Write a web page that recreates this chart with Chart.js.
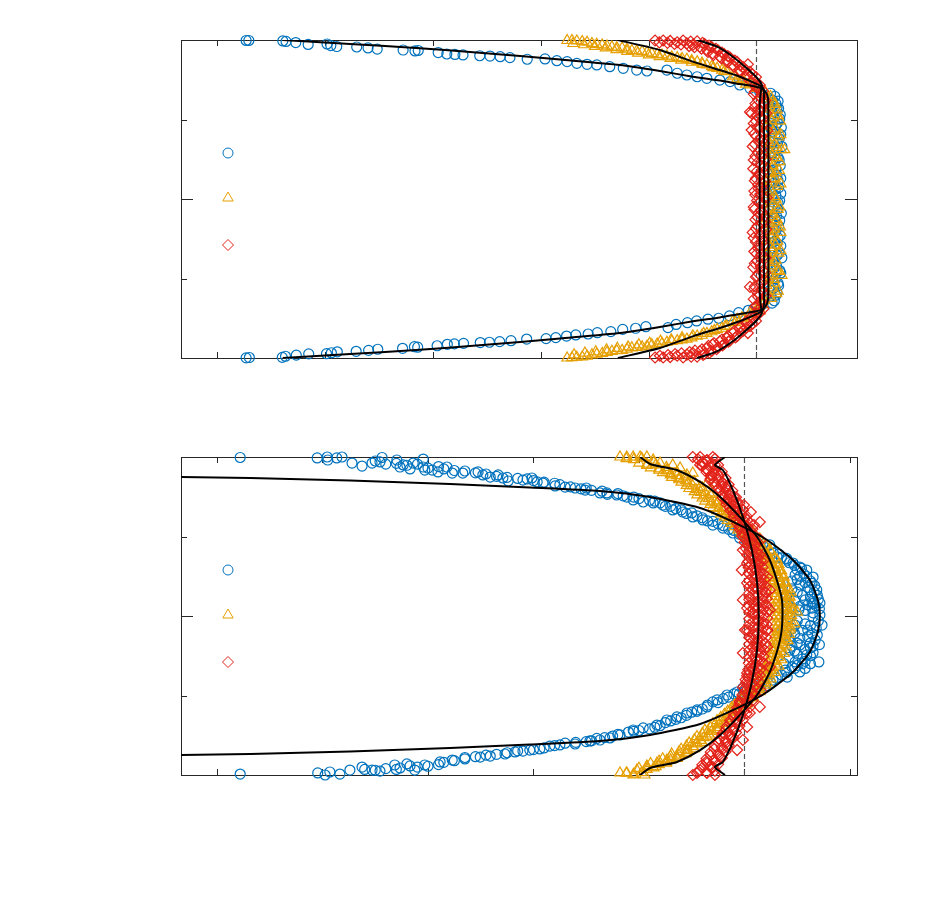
<!DOCTYPE html>
<html>
<head>
<meta charset="utf-8">
<script src="https://cdn.jsdelivr.net/npm/chart.js@4/dist/chart.umd.min.js"></script>
<style>
  html, body { margin: 0; background: #fff; }
  #wrap { position: relative; width: 934px; height: 913px; }
  .panel { position: absolute; left: 0; width: 934px; height: 400px; }
</style>
</head>
<body>
<div id="wrap">
  <div class="panel" style="top:0"><canvas id="chartTop"></canvas></div>
  <div class="panel" style="top:417px"><canvas id="chartBottom"></canvas></div>
</div>
<script>
// ── Data: x = u / U (dashed line at 1), y = position across the channel (-1..1) ──

var xTicksTop = [0, 0.2, 0.4, 0.6, 0.8, 1.0];
var xTicksBottom = [0, 0.2, 0.4, 0.6, 0.8, 1.0, 1.2];
var yTicks = [-0.5, 0, 0.5];
var refLine = [[1.0, -1], [1.0, 1]];

// top panel — simulation points
var topBlue = [
  [0.054,0.997],[0.059,0.997],[0.122,0.994],[0.128,0.991],[0.146,0.984],[0.169,0.972],[0.204,0.975],[0.211,0.965],
  [0.222,0.959],[0.259,0.956],[0.280,0.950],[0.297,0.943],[0.345,0.937],[0.367,0.931],[0.373,0.934],[0.410,0.921],
  [0.426,0.912],[0.441,0.909],[0.456,0.906],[0.487,0.901],[0.506,0.899],[0.525,0.895],[0.543,0.889],[0.575,0.879],
  [0.608,0.881],[0.630,0.870],[0.649,0.864],[0.667,0.853],[0.686,0.847],[0.704,0.843],[0.728,0.832],[0.753,0.822],
  [0.778,0.811],[0.797,0.805],[0.834,0.811],[0.853,0.791],[0.871,0.780],[0.890,0.769],[0.908,0.759],[0.932,0.748],
  [0.951,0.738],[0.969,0.717],[0.988,0.696],[1.006,0.675],[1.021,0.635],
  [1.030,0.62],[1.036,0.60],[1.041,0.57],[1.028,0.55],[1.044,0.53],[1.033,0.51],[1.039,0.48],[1.046,0.45],
  [1.027,0.44],[1.035,0.41],[1.042,0.38],[1.031,0.36],[1.047,0.33],[1.037,0.31],[1.025,0.29],[1.040,0.26],
  [1.033,0.23],[1.044,0.21],[1.029,0.18],[1.038,0.15],[1.045,0.13],[1.032,0.10],[1.041,0.07],[1.026,0.05],
  [1.036,0.02],[1.043,-0.01],[1.030,-0.04],[1.039,-0.06],[1.046,-0.09],[1.034,-0.12],[1.027,-0.14],[1.041,-0.17],
  [1.036,-0.20],[1.044,-0.23],[1.029,-0.25],[1.038,-0.28],[1.033,-0.31],[1.042,-0.34],[1.047,-0.37],[1.031,-0.39],
  [1.037,-0.42],[1.043,-0.45],[1.028,-0.47],[1.035,-0.50],[1.040,-0.53],[1.032,-0.56],[1.038,-0.59],[1.027,-0.61],
  [1.033,-0.64],
  [1.012,-0.66],[0.995,-0.69],[0.985,-0.70],[0.967,-0.715],[0.950,-0.735],[0.930,-0.750],[0.910,-0.756],[0.889,-0.767],
  [0.872,-0.778],[0.851,-0.789],[0.836,-0.809],[0.795,-0.803],[0.776,-0.813],[0.752,-0.820],[0.730,-0.834],[0.705,-0.841],
  [0.688,-0.849],[0.665,-0.855],[0.648,-0.862],[0.628,-0.872],[0.610,-0.878],[0.574,-0.881],[0.545,-0.891],[0.524,-0.897],
  [0.505,-0.901],[0.488,-0.903],[0.457,-0.908],[0.440,-0.911],[0.427,-0.914],[0.408,-0.923],[0.372,-0.932],[0.366,-0.929],
  [0.344,-0.939],[0.298,-0.945],[0.281,-0.952],[0.258,-0.958],[0.223,-0.961],[0.212,-0.967],[0.203,-0.973],[0.170,-0.974],
  [0.147,-0.982],[0.127,-0.989],[0.121,-0.996],[0.060,-0.997],[0.054,-0.999]
];
var topBlueCore = [
  [1.026,0.665],[1.034,0.645],[1.040,0.615],[1.024,0.59],[1.038,0.575],[1.030,0.535],[1.043,0.505],[1.025,0.495],
  [1.036,0.465],[1.029,0.425],[1.045,0.405],[1.039,0.355],[1.026,0.335],[1.034,0.275],[1.042,0.245],[1.028,0.215],
  [1.036,0.19],[1.031,0.135],[1.040,0.115],[1.024,0.085],[1.035,0.06],[1.045,0.035],[1.029,0.005],[1.040,-0.025],
  [1.024,-0.075],[1.037,-0.105],[1.043,-0.135],[1.031,-0.185],[1.025,-0.215],[1.040,-0.245],[1.034,-0.265],[1.045,-0.295],
  [1.027,-0.335],[1.038,-0.355],[1.024,-0.405],[1.033,-0.435],[1.045,-0.465],[1.030,-0.515],[1.041,-0.545],[1.025,-0.575],
  [1.036,-0.605],[1.029,-0.655]
];
var topOrange = [
  [0.649,0.997],[0.658,0.997],[0.667,0.994],[0.677,0.991],[0.686,0.986],[0.695,0.978],[0.704,0.973],[0.714,0.969],
  [0.723,0.962],[0.732,0.956],[0.741,0.952],[0.751,0.950],[0.760,0.943],[0.769,0.934],[0.778,0.931],[0.788,0.928],
  [0.797,0.923],[0.806,0.915],[0.816,0.910],[0.825,0.906],[0.834,0.899],[0.843,0.893],[0.853,0.889],[0.862,0.884],
  [0.871,0.879],[0.880,0.871],[0.890,0.864],[0.899,0.855],[0.908,0.843],[0.917,0.833],[0.927,0.822],[0.936,0.811],
  [0.945,0.801],[0.956,0.769],[0.964,0.755],[0.973,0.748],[0.980,0.723],[0.988,0.717],[1.001,0.696],
  [1.010,0.66],[1.020,0.63],[1.030,0.61],[1.024,0.58],[1.038,0.56],[1.018,0.54],[1.032,0.51],[1.044,0.49],
  [1.022,0.47],[1.035,0.44],[1.027,0.41],[1.041,0.39],[1.019,0.37],[1.033,0.34],[1.046,0.31],[1.052,0.31],
  [1.025,0.29],[1.037,0.26],[1.021,0.24],[1.030,0.21],[1.042,0.18],[1.026,0.16],[1.034,0.13],[1.019,0.11],
  [1.039,0.08],[1.028,0.05],[1.023,0.03],[1.036,0.00],[1.031,-0.03],[1.043,-0.05],[1.020,-0.08],[1.029,-0.11],
  [1.038,-0.13],[1.024,-0.16],[1.033,-0.19],[1.045,-0.21],[1.027,-0.24],[1.019,-0.26],[1.035,-0.29],[1.030,-0.32],
  [1.041,-0.34],[1.022,-0.37],[1.032,-0.40],[1.026,-0.42],[1.038,-0.45],[1.047,-0.48],[1.021,-0.50],[1.034,-0.53],
  [1.028,-0.56],[1.040,-0.58],[1.023,-0.61],[1.015,-0.64],
  [1.000,-0.695],[0.988,-0.716],[0.973,-0.746],[0.964,-0.757],[0.956,-0.770],[0.945,-0.799],[0.936,-0.813],[0.927,-0.820],
  [0.917,-0.835],[0.908,-0.845],[0.899,-0.857],[0.890,-0.862],[0.880,-0.873],[0.871,-0.881],[0.862,-0.886],[0.853,-0.891],
  [0.843,-0.895],[0.834,-0.901],[0.825,-0.908],[0.816,-0.912],[0.806,-0.917],[0.797,-0.925],[0.788,-0.930],[0.778,-0.933],
  [0.769,-0.936],[0.760,-0.945],[0.751,-0.952],[0.741,-0.954],[0.732,-0.958],[0.723,-0.964],[0.714,-0.971],[0.704,-0.975],
  [0.695,-0.980],[0.686,-0.988],[0.677,-0.993],[0.667,-0.995],[0.658,-0.998],[0.649,-1.0]
];
var topOrangeBand = [
  [0.660,0.978],[0.680,0.970],[0.700,0.960],[0.720,0.950],[0.740,0.940],[0.760,0.929],[0.780,0.918],[0.800,0.906],
  [0.820,0.895],[0.840,0.884],[0.860,0.873],[0.880,0.860],[0.900,0.846],[0.920,0.826],[0.940,0.802],[0.960,0.779],
  [0.975,0.752],[0.990,0.728],[1.005,0.706],
  [1.016,0.675],[1.026,0.645],[1.035,0.595],[1.021,0.565],[1.040,0.525],[1.027,0.495],[1.016,0.455],[1.031,0.425],
  [1.045,0.405],[1.024,0.355],[1.038,0.325],[1.018,0.305],[1.029,0.275],[1.043,0.235],[1.022,0.195],[1.036,0.165],
  [1.028,0.125],[1.045,0.095],[1.017,0.065],[1.033,0.015],[1.025,-0.015],[1.040,-0.065],[1.030,-0.095],[1.018,-0.125],
  [1.035,-0.145],[1.044,-0.175],[1.023,-0.205],[1.031,-0.225],[1.039,-0.265],[1.026,-0.305],[1.045,-0.325],[1.020,-0.345],
  [1.036,-0.385],[1.029,-0.435],[1.042,-0.455],[1.024,-0.485],[1.033,-0.505],[1.019,-0.545],[1.037,-0.595],[1.027,-0.625],
  [1.012,-0.665],[1.005,-0.680],
  [0.662,-0.980],[0.682,-0.969],[0.702,-0.961],[0.722,-0.949],[0.742,-0.939],[0.762,-0.930],[0.782,-0.917],[0.802,-0.907],
  [0.822,-0.894],[0.842,-0.885],[0.862,-0.872],[0.882,-0.861],[0.902,-0.845],[0.922,-0.827],[0.942,-0.801],[0.961,-0.778],
  [0.976,-0.753],[0.991,-0.727],[1.006,-0.705]
];
var topRed = [
  [0.812,0.997],[0.827,0.997],[0.840,0.994],[0.853,0.986],[0.864,0.997],[0.871,0.979],[0.882,0.969],[0.890,0.991],
  [0.895,0.958],[0.904,0.975],[0.908,0.937],[0.917,0.956],[0.919,0.916],[0.929,0.934],[0.932,0.895],[0.940,0.912],
  [0.945,0.874],[0.951,0.890],[0.956,0.843],[0.964,0.862],[0.969,0.811],[0.975,0.830],[0.982,0.780],[0.984,0.847],
  [0.988,0.799],[0.994,0.748],[0.999,0.767],[1.006,0.717],[0.988,0.547],[0.991,0.434],
  [1.000,0.70],[1.012,0.68],[0.995,0.66],[1.008,0.64],[1.016,0.62],[0.998,0.60],[1.010,0.58],[1.003,0.56],
  [1.018,0.54],[0.991,0.54],[1.006,0.51],[0.999,0.49],[1.014,0.47],[1.002,0.45],[1.020,0.43],[0.996,0.41],
  [1.009,0.39],[1.004,0.37],[1.015,0.35],[0.993,0.33],[1.007,0.31],[1.011,0.29],[0.998,0.27],[1.017,0.25],
  [1.002,0.23],[1.008,0.21],[0.994,0.19],[1.013,0.17],[1.005,0.15],[0.999,0.13],[1.016,0.11],[1.003,0.09],
  [1.010,0.07],[0.996,0.05],[1.007,0.03],[1.019,0.01],[1.001,-0.01],[1.012,-0.03],[0.995,-0.05],[1.008,-0.07],
  [1.004,-0.09],[1.015,-0.11],[0.998,-0.13],[1.010,-0.15],[1.002,-0.17],[1.018,-0.19],[0.993,-0.21],[1.006,-0.23],
  [1.011,-0.25],[0.999,-0.27],[1.014,-0.29],[1.003,-0.31],[0.996,-0.33],[1.009,-0.35],[1.017,-0.37],[1.001,-0.39],
  [1.007,-0.41],[0.994,-0.43],[1.012,-0.45],[1.004,-0.47],[0.999,-0.49],[1.015,-0.51],[1.006,-0.53],[0.997,-0.55],
  [0.988,-0.553],[1.010,-0.57],[1.002,-0.59],[1.017,-0.61],[0.995,-0.63],[1.008,-0.65],[1.001,-0.67],[1.013,-0.69],
  [1.006,-0.717],[0.999,-0.767],[0.994,-0.748],[0.988,-0.799],[0.982,-0.780],[0.975,-0.830],[0.969,-0.811],[0.984,-0.843],
  [0.964,-0.862],[0.956,-0.843],[0.951,-0.890],[0.945,-0.874],[0.940,-0.912],[0.932,-0.895],[0.929,-0.934],[0.919,-0.916],
  [0.917,-0.956],[0.908,-0.937],[0.904,-0.975],[0.895,-0.958],[0.890,-0.991],[0.882,-0.969],[0.871,-0.979],[0.864,-0.997],
  [0.853,-0.986],[0.840,-0.994],[0.827,-0.997],[0.812,-0.997]
];
var topRedBand = [
  [0.820,0.985],[0.835,0.982],[0.848,0.975],[0.860,0.972],[0.875,0.962],[0.885,0.955],[0.898,0.945],[0.910,0.925],
  [0.920,0.905],[0.935,0.885],[0.946,0.860],[0.958,0.832],[0.970,0.800],[0.980,0.770],[0.990,0.740],[0.998,0.720],
  [0.878,0.990],[0.900,0.982],[0.912,0.965],[0.925,0.945],[0.936,0.920],[0.947,0.898],[0.960,0.870],[0.970,0.840],
  [0.980,0.810],[0.992,0.785],
  [1.004,0.695],[0.997,0.675],[1.010,0.655],[1.003,0.625],[1.014,0.605],[0.996,0.575],[1.007,0.555],[1.000,0.525],
  [1.012,0.505],[0.995,0.475],[1.005,0.455],[1.016,0.415],[1.000,0.395],[1.010,0.365],[0.997,0.345],[1.013,0.325],
  [1.003,0.295],[1.009,0.265],[0.995,0.245],[1.015,0.205],[1.001,0.175],[1.008,0.155],[0.997,0.115],[1.012,0.095],
  [1.004,0.065],[0.998,0.025],[1.014,0.005],[1.005,-0.025],[0.996,-0.065],[1.011,-0.085],[1.002,-0.115],[1.016,-0.145],
  [0.999,-0.185],[1.009,-0.205],[0.995,-0.245],[1.013,-0.265],[1.004,-0.295],[1.000,-0.345],[1.012,-0.365],[0.997,-0.405],
  [1.008,-0.425],[1.016,-0.465],[1.001,-0.485],[1.010,-0.525],[0.996,-0.565],[1.013,-0.585],[1.003,-0.615],[1.009,-0.645],
  [0.998,-0.675],[1.004,-0.695],
  [0.821,-0.986],[0.836,-0.981],[0.849,-0.976],[0.861,-0.971],[0.876,-0.963],[0.886,-0.954],[0.899,-0.946],[0.911,-0.924],
  [0.921,-0.906],[0.936,-0.884],[0.947,-0.861],[0.959,-0.831],[0.971,-0.801],[0.981,-0.769],[0.991,-0.741],[0.999,-0.719],
  [0.879,-0.991],[0.901,-0.981],[0.913,-0.966],[0.926,-0.944],[0.937,-0.921],[0.948,-0.897],[0.961,-0.871],[0.971,-0.839],
  [0.981,-0.811],[0.993,-0.784]
];

// top panel — model curves
var topBlueFit = [
  [0.122,1.0],[0.247,0.975],[0.376,0.948],[0.469,0.925],[0.562,0.899],[0.636,0.877],[0.747,0.843],[0.821,0.805],
  [0.882,0.769],[0.932,0.745],[0.969,0.723],[0.997,0.708],[1.012,0.692],[1.020,0.654],[1.022,0.591],[1.022,0],
  [1.022,-0.591],[1.020,-0.654],[1.012,-0.692],[0.997,-0.708],[0.969,-0.723],[0.932,-0.745],[0.882,-0.769],[0.821,-0.805],
  [0.747,-0.843],[0.636,-0.877],[0.562,-0.899],[0.469,-0.925],[0.376,-0.948],[0.247,-0.975],[0.122,-1.0]
];
var topOrangeFit = [
  [0.743,1.0],[0.821,0.937],[0.882,0.864],[0.932,0.811],[0.969,0.769],[1.001,0.723],[1.012,0.698],[1.014,0.654],
  [1.014,0.591],[1.014,0],[1.014,-0.591],[1.014,-0.654],[1.012,-0.698],[1.001,-0.723],[0.969,-0.769],[0.932,-0.811],
  [0.882,-0.864],[0.821,-0.937],[0.743,-1.0]
];
var topRedFit = [
  [0.890,1.0],[0.927,0.958],[0.956,0.895],[0.982,0.822],[1.001,0.761],[1.010,0.717],[1.008,0.673],[1.006,0.591],
  [1.006,0],[1.006,-0.591],[1.008,-0.673],[1.010,-0.717],[1.001,-0.761],[0.982,-0.822],[0.956,-0.895],[0.927,-0.958],
  [0.890,-1.0]
];

// bottom panel — simulation points
var bottomBlue = [
  [0.044,0.997],[0.190,0.994],[0.209,1.0],[0.210,0.981],[0.227,0.994],[0.237,1.0],[0.256,0.962],[0.275,0.943],
  [0.294,0.962],[0.309,0.969],[0.313,0.997],[0.341,0.981],[0.347,0.937],[0.353,0.950],[0.366,0.925],[0.372,0.962],
  [0.391,0.987],[0.391,0.937],[0.394,0.918],[0.408,0.918],[0.419,0.906],[0.436,0.937],[0.446,0.899],[0.466,0.899],
  [0.495,0.906],[0.504,0.887],[0.518,0.874],[0.533,0.887],[0.542,0.868],[0.552,0.849],[0.588,0.862],[0.597,0.868],
  [0.607,0.843],[0.618,0.836],[0.641,0.818],[0.660,0.811],[0.679,0.805],[0.698,0.792],[0.726,0.774],[0.739,0.774],
  [0.758,0.761],[0.777,0.748],[0.789,0.730],[0.808,0.717],[0.827,0.711],[0.845,0.698],[0.864,0.667],[0.883,0.654],
  [0.902,0.623],[0.921,0.604],[0.940,0.572],[0.959,0.553],[0.978,0.522],[0.991,0.491],[1.005,0.465],[1.029,0.415],
  [1.048,0.447],[1.062,0.371],[1.081,0.352],[1.092,0.333],[1.105,0.308],[1.118,0.289],[1.130,0.245],[1.137,0.164],
  [1.143,0.082],[1.067,0.208],[1.081,0.082],[1.086,-0.006],[1.096,0.258],[1.105,0.195],[1.124,0.164],[1.115,0.101],
  [1.128,0.050],[1.103,0.038],[1.143,0.006],[1.147,-0.057],[1.096,-0.057],[1.120,-0.088],[1.134,-0.151],[1.105,-0.182],
  [1.086,-0.214],[1.118,-0.245],[1.141,-0.289],[1.096,-0.289],[1.077,-0.340],[1.105,-0.352],[1.086,-0.151],[1.073,-0.088],
  [1.081,-0.384],[1.054,-0.403],[1.029,-0.434],[0.997,-0.453],[0.986,-0.478],[0.967,-0.497],[0.948,-0.528],[0.929,-0.572],
  [0.910,-0.591],[0.891,-0.610],[0.872,-0.635],[0.853,-0.654],[0.834,-0.686],[0.808,-0.704],[0.789,-0.717],[0.764,-0.748],
  [0.745,-0.767],[0.726,-0.780],[0.707,-0.786],[0.679,-0.805],[0.650,-0.811],[0.631,-0.818],[0.612,-0.836],[0.593,-0.843],
  [0.565,-0.855],[0.546,-0.868],[0.518,-0.881],[0.499,-0.887],[0.470,-0.899],[0.446,-0.906],[0.423,-0.918],[0.394,-0.937],
  [0.375,-0.969],[0.366,-0.943],[0.347,-0.956],[0.337,-0.937],[0.309,-0.975],[0.294,-0.969],[0.275,-0.950],[0.252,-0.969],
  [0.233,-0.994],[0.214,-0.981],[0.205,-1.0],[0.191,-0.987],[0.044,-0.994]
];
var bottomBlueBand = [
  [0.32,0.955],[0.36,0.948],[0.40,0.930],[0.43,0.925],[0.47,0.912],[0.51,0.893],[0.55,0.872],[0.58,0.855],
  [0.62,0.842],[0.65,0.826],[0.69,0.800],[0.71,0.790],[0.74,0.765],[0.77,0.756],[0.80,0.738],[0.83,0.722],
  [0.85,0.690],[0.87,0.675],[0.89,0.645],[0.91,0.630],[0.93,0.598],[0.95,0.580],[0.97,0.545],[0.99,0.515],
  [1.01,0.485],[1.02,0.455],[1.04,0.430],[1.055,0.395],[1.07,0.365],[1.085,0.335],[1.10,0.290],[1.112,0.265],
  [1.125,0.220],[1.133,0.190],[1.138,0.130],[1.140,0.105],[1.135,0.065],[1.13,0.02],[1.14,-0.03],[1.128,-0.11],
  [1.138,-0.12],[1.125,-0.20],[1.11,-0.27],[1.095,-0.33],[1.07,-0.37],[1.05,-0.42],[1.03,-0.45],[1.01,-0.47],
  [0.99,-0.49],[0.97,-0.51],[0.95,-0.545],[0.93,-0.56],[0.91,-0.60],[0.89,-0.625],[0.87,-0.65],[0.85,-0.67],
  [0.83,-0.70],[0.80,-0.72],[0.78,-0.73],[0.75,-0.755],[0.72,-0.77],[0.70,-0.79],[0.66,-0.80],[0.62,-0.83],
  [0.58,-0.85],[0.55,-0.86],[0.51,-0.875],[0.47,-0.89],[0.43,-0.92],[0.40,-0.945],[0.36,-0.93],[0.32,-0.96],
  [0.28,-0.965],
  [1.10,0.23],[1.115,0.21],[1.09,0.17],[1.11,0.13],[1.125,0.12],[1.095,0.10],[1.12,0.07],[1.105,0.06],
  [1.13,-0.005],[1.1,-0.03],[1.125,-0.06],[1.11,-0.09],[1.095,-0.11],[1.12,-0.13],[1.105,-0.14],[1.13,-0.19],
  [1.09,-0.19],[1.115,-0.21],[1.1,-0.24],[1.125,-0.25],[1.085,-0.26],[1.11,-0.30],[1.09,-0.32],[1.075,-0.30]
];
var bottomBlueBand2 = [
  [0.30,0.975],[0.34,0.960],[0.38,0.955],[0.42,0.940],[0.45,0.915],[0.49,0.900],[0.53,0.878],[0.57,0.865],
  [0.60,0.852],[0.64,0.835],[0.67,0.812],[0.70,0.805],[0.73,0.785],[0.76,0.770],[0.79,0.748],[0.82,0.728],
  [0.84,0.712],[0.86,0.690],[0.88,0.668],[0.90,0.648],[0.92,0.618],[0.94,0.595],[0.96,0.568],[0.98,0.538],
  [1.00,0.505],[1.015,0.478],[1.035,0.452],[1.05,0.420],[1.065,0.390],[1.08,0.362],[1.095,0.318],[1.108,0.300],
  [1.118,0.250],[1.128,0.205],[1.132,0.150],[1.128,0.090],[1.142,0.045],[1.136,-0.075],[1.142,-0.18],[1.13,-0.23],
  [1.115,-0.285],[1.1,-0.31],[1.08,-0.355],[1.06,-0.39],[1.04,-0.44],[1.02,-0.455],[1.0,-0.475],[0.98,-0.49],
  [0.96,-0.52],[0.94,-0.54],[0.92,-0.585],[0.90,-0.605],[0.88,-0.64],[0.86,-0.66],[0.84,-0.69],[0.82,-0.71],
  [0.79,-0.725],[0.76,-0.745],[0.735,-0.765],[0.71,-0.785],[0.68,-0.795],[0.64,-0.815],[0.60,-0.84],[0.57,-0.848],
  [0.53,-0.87],[0.49,-0.885],[0.45,-0.91],[0.42,-0.935],[0.38,-0.95],[0.34,-0.965],[0.30,-0.97],
  [1.09,0.22],[1.105,0.25],[1.1,0.15],[1.12,0.18],[1.09,0.05],[1.115,0.035],[1.13,0.08],[1.09,-0.08],
  [1.1,-0.17],[1.125,-0.17],[1.115,-0.05],[1.08,-0.12],[1.08,0.12],[1.095,-0.22],[1.125,-0.3],[1.115,-0.33]
];
var bottomOrange = [
  [0.764,1.0],[0.777,1.0],[0.789,1.0],[0.802,1.0],[0.815,1.0],[0.827,0.981],[0.840,0.962],[0.853,0.918],
  [0.864,0.950],[0.878,0.931],[0.891,0.887],[0.902,0.899],[0.916,0.811],[0.929,0.836],[0.940,0.774],[0.948,0.711],
  [0.959,0.679],[0.973,0.635],[0.986,0.604],[0.997,0.560],[1.010,0.522],[1.029,0.459],[1.048,0.415],[1.062,0.352],
  [1.067,0.289],[1.077,0.208],[1.086,0.119],[1.092,0.038],[1.043,0.208],[1.048,0.101],[1.054,-0.006],
  [1.067,0.164],[1.081,-0.025],[1.063,-0.101],[1.100,0.025],[1.086,-0.088],[1.073,-0.182],[1.052,-0.214],[1.058,-0.277],
  [1.039,-0.327],[1.090,0.07],[1.075,0.12],[1.058,0.05],[1.095,-0.05],[1.078,-0.14],[1.065,-0.15],[1.088,0.15],
  [1.070,0.26],[1.055,0.30],[1.045,0.38],
  [1.067,-0.088],[1.062,-0.233],[1.048,-0.340],[1.043,-0.421],[1.029,-0.465],[1.016,-0.509],[1.005,-0.547],[0.978,-0.591],
  [0.967,-0.654],[0.948,-0.717],[0.929,-0.761],[0.910,-0.799],[0.891,-0.843],[0.872,-0.887],[0.853,-0.906],[0.834,-0.925],
  [0.815,-0.950],[0.796,-0.969],[0.777,-0.987],[0.764,-0.987],[0.789,-1.0],[0.811,-1.0]
];
var bottomOrangeBand = [
  [0.776,0.990],[0.790,0.984],[0.805,0.993],[0.800,0.962],[0.815,0.955],[0.828,0.965],[0.822,0.932],[0.838,0.926],
  [0.852,0.935],[0.845,0.902],[0.860,0.895],[0.872,0.905],[0.862,0.872],[0.876,0.866],[0.889,0.875],[0.880,0.842],
  [0.893,0.835],[0.905,0.845],[0.895,0.802],[0.908,0.795],[0.920,0.806],[0.910,0.762],[0.923,0.756],[0.935,0.765],
  [0.925,0.722],[0.938,0.716],[0.950,0.725],[0.940,0.682],[0.952,0.676],[0.964,0.685],[0.955,0.642],[0.966,0.635],
  [0.978,0.645],[0.968,0.602],[0.980,0.596],[0.991,0.605],[0.981,0.562],[0.993,0.555],[1.004,0.565],[0.994,0.522],
  [1.006,0.516],[1.017,0.525],[1.006,0.482],[1.018,0.475],[1.029,0.485],[1.017,0.442],[1.029,0.436],[1.040,0.445],
  [1.027,0.402],[1.039,0.396],[1.050,0.405],[1.035,0.362],[1.047,0.355],[1.058,0.365],[1.042,0.322],[1.054,0.316],
  [1.065,0.325],[1.047,0.282],[1.059,0.275],[1.070,0.285],[1.051,0.242],[1.064,0.236],[1.075,0.245],[1.054,0.202],
  [1.067,0.195],[1.079,0.205],[1.056,0.162],[1.070,0.156],[1.082,0.165],[1.058,0.122],[1.072,0.115],[1.085,0.125],
  [1.059,0.082],[1.073,0.076],[1.087,0.085],[1.060,0.042],[1.074,0.035],[1.088,0.045],[1.060,0.002],[1.075,-0.005],
  [1.089,0.004],[1.060,-0.038],[1.074,-0.045],[1.088,-0.035],[1.059,-0.078],[1.073,-0.085],[1.087,-0.075],[1.058,-0.118],
  [1.072,-0.125],[1.085,-0.115],[1.056,-0.158],[1.070,-0.165],[1.082,-0.155],[1.054,-0.198],[1.067,-0.205],[1.079,-0.195],
  [1.051,-0.238],[1.064,-0.245],[1.075,-0.235],[1.047,-0.278],[1.059,-0.285],[1.070,-0.275],[1.042,-0.318],[1.054,-0.325],
  [1.065,-0.315],[1.035,-0.358],[1.047,-0.365],[1.058,-0.355],[1.027,-0.398],[1.039,-0.405],[1.050,-0.395],[1.017,-0.438],
  [1.029,-0.445],[1.040,-0.435],[1.006,-0.478],[1.018,-0.485],[1.029,-0.475],[0.994,-0.518],[1.006,-0.525],[1.017,-0.515],
  [0.981,-0.558],[0.993,-0.565],[1.004,-0.555],[0.968,-0.598],[0.980,-0.605],[0.991,-0.595],[0.955,-0.638],[0.966,-0.645],
  [0.978,-0.635],[0.940,-0.678],[0.952,-0.685],[0.964,-0.675],[0.925,-0.718],[0.938,-0.725],[0.950,-0.715],[0.910,-0.758],
  [0.923,-0.765],[0.935,-0.755],[0.895,-0.798],[0.908,-0.805],[0.920,-0.795],[0.880,-0.838],[0.893,-0.845],[0.905,-0.835],
  [0.862,-0.868],[0.876,-0.875],[0.889,-0.865],[0.845,-0.898],[0.860,-0.905],[0.872,-0.895],[0.822,-0.928],[0.838,-0.935],
  [0.852,-0.925],[0.800,-0.958],[0.815,-0.965],[0.828,-0.955],[0.776,-0.988],[0.790,-0.995],[0.805,-0.985]
];
var bottomOrangeBand2 = [
  [0.815,0.947],[0.832,0.951],[0.838,0.917],[0.852,0.913],[0.860,0.887],[0.872,0.883],[0.876,0.857],[0.889,0.853],
  [0.890,0.822],[0.902,0.818],[0.905,0.782],[0.917,0.778],[0.920,0.742],[0.932,0.738],[0.935,0.702],[0.947,0.698],
  [0.948,0.662],[0.960,0.658],[0.962,0.622],[0.973,0.618],[0.975,0.582],[0.986,0.578],[0.988,0.542],[0.999,0.538],
  [1.000,0.502],[1.012,0.498],[1.012,0.462],[1.024,0.458],[1.022,0.422],[1.034,0.418],[1.032,0.382],[1.043,0.378],
  [1.040,0.342],[1.051,0.338],[1.046,0.302],[1.058,0.298],[1.051,0.262],[1.064,0.258],[1.055,0.222],[1.068,0.218],
  [1.058,0.182],[1.072,0.178],[1.061,0.142],[1.076,0.138],[1.063,0.102],[1.078,0.098],[1.064,0.062],[1.080,0.058],
  [1.065,0.022],[1.081,0.018],
  [1.065,-0.018],[1.081,-0.022],[1.064,-0.058],[1.080,-0.062],[1.063,-0.098],[1.078,-0.102],[1.061,-0.138],[1.076,-0.142],
  [1.058,-0.178],[1.072,-0.182],[1.055,-0.218],[1.068,-0.222],[1.051,-0.258],[1.064,-0.262],[1.046,-0.298],[1.058,-0.302],
  [1.040,-0.338],[1.051,-0.342],[1.032,-0.378],[1.043,-0.382],[1.022,-0.418],[1.034,-0.422],[1.012,-0.458],[1.024,-0.462],
  [1.000,-0.498],[1.012,-0.502],[0.988,-0.538],[0.999,-0.542],[0.975,-0.578],[0.986,-0.582],[0.962,-0.618],[0.973,-0.622],
  [0.948,-0.658],[0.960,-0.662],[0.935,-0.698],[0.947,-0.702],[0.920,-0.738],[0.932,-0.742],[0.905,-0.778],[0.917,-0.782],
  [0.890,-0.818],[0.902,-0.822],[0.876,-0.853],[0.889,-0.857],[0.860,-0.883],[0.872,-0.887],[0.838,-0.913],[0.852,-0.917],
  [0.815,-0.943],[0.832,-0.947]
];
var bottomRed = [
  [0.902,1.0],[0.916,1.0],[0.929,0.981],[0.940,1.0],[0.916,0.950],[0.929,0.918],[0.948,0.899],[0.935,0.855],
  [0.959,0.836],[0.954,0.792],[0.973,0.774],[0.967,0.730],[0.986,0.711],[0.978,0.667],[0.997,0.667],[0.991,0.623],
  [1.005,0.604],[1.029,0.591],[0.991,0.560],[1.010,0.541],[0.997,0.497],[1.016,0.459],[0.997,0.415],[1.024,0.396],
  [1.005,0.333],[1.024,0.289],[1.005,0.208],[1.029,0.208],[1.043,0.245],[1.010,0.119],[1.035,0.101],[1.016,0.019],
  [1.048,0.038],[0.921,0.969],[0.944,0.950],[0.938,0.887],[0.963,0.811],[0.980,0.748],[0.999,0.698],[1.012,0.654],
  [1.018,0.572],[1.031,0.478],[1.037,0.352],[0.995,0.289],[1.048,0.164],[0.997,0.101],[1.026,-0.025],[1.001,-0.088],
  [1.044,-0.088],[1.020,0.06],[1.035,-0.05],[1.012,-0.14],[1.030,-0.22],[1.040,0.15],[1.005,0.05],[1.038,-0.30],
  [1.015,-0.33],[1.028,0.33],[1.008,0.27],[1.002,-0.40],[1.032,-0.47],
  [1.005,-0.088],[1.024,-0.170],[0.997,-0.233],[1.024,-0.277],[1.005,-0.358],[1.024,-0.384],[0.997,-0.447],[1.016,-0.484],
  [1.029,-0.572],[0.991,-0.547],[1.010,-0.610],[0.986,-0.654],[1.005,-0.698],[0.978,-0.761],[0.997,-0.780],[0.967,-0.824],
  [0.986,-0.843],[0.954,-0.887],[0.929,-0.925],[0.940,-0.950],[0.916,-0.969],[0.910,-0.987],[0.929,-0.987],[1.043,-0.195],
  [1.048,-0.321],[0.944,-1.0],[0.902,-1.0]
];
var bottomRedBand = [
  [0.912,0.984],[0.928,0.977],[0.944,0.989],[0.920,0.944],[0.935,0.937],[0.950,0.949],[0.928,0.905],[0.942,0.896],
  [0.957,0.908],[0.936,0.863],[0.950,0.856],[0.964,0.868],[0.944,0.824],[0.957,0.816],[0.970,0.827],[0.952,0.784],
  [0.964,0.776],[0.977,0.787],[0.959,0.744],[0.971,0.736],[0.984,0.747],[0.966,0.703],[0.978,0.696],[0.990,0.708],
  [0.973,0.664],[0.985,0.656],[0.997,0.667],[0.980,0.624],[0.992,0.617],[1.004,0.628],[0.986,0.583],[0.998,0.576],
  [1.010,0.587],[0.991,0.544],[1.003,0.536],[1.015,0.547],[0.996,0.504],[1.008,0.496],[1.020,0.507],[1.000,0.463],
  [1.012,0.456],[1.024,0.468],[1.003,0.424],[1.015,0.416],[1.027,0.427],[1.005,0.384],[1.017,0.376],[1.029,0.387],
  [1.007,0.343],[1.019,0.336],[1.031,0.348],[1.008,0.304],[1.021,0.296],[1.034,0.307],[1.009,0.264],[1.022,0.256],
  [1.036,0.267],[1.009,0.223],[1.023,0.216],[1.038,0.228],[1.009,0.184],[1.024,0.176],[1.040,0.187],[1.009,0.144],
  [1.025,0.136],[1.041,0.147],[1.009,0.103],[1.026,0.096],[1.042,0.108],[1.009,0.064],[1.026,0.056],[1.042,0.067],
  [1.009,0.024],[1.026,0.016],[1.043,0.027],[1.009,-0.017],[1.026,-0.024],[1.043,-0.013],[1.009,-0.056],[1.026,-0.064],
  [1.042,-0.053],[1.009,-0.097],[1.025,-0.104],[1.042,-0.093],[1.009,-0.136],[1.025,-0.144],[1.041,-0.133],[1.009,-0.177],
  [1.024,-0.184],[1.040,-0.173],[1.009,-0.216],[1.023,-0.224],[1.038,-0.213],[1.009,-0.257],[1.022,-0.264],[1.036,-0.253],
  [1.008,-0.296],[1.021,-0.304],[1.034,-0.293],[1.007,-0.337],[1.019,-0.344],[1.031,-0.333],[1.005,-0.376],[1.017,-0.384],
  [1.029,-0.373],[1.003,-0.417],[1.015,-0.424],[1.027,-0.413],[1.000,-0.456],[1.012,-0.464],[1.024,-0.453],[0.996,-0.497],
  [1.008,-0.504],[1.020,-0.493],[0.991,-0.536],[1.003,-0.544],[1.015,-0.533],[0.986,-0.577],[0.998,-0.584],[1.010,-0.573],
  [0.980,-0.616],[0.992,-0.624],[1.004,-0.613],[0.973,-0.657],[0.985,-0.664],[0.997,-0.653],[0.966,-0.696],[0.978,-0.704],
  [0.990,-0.693],[0.959,-0.737],[0.971,-0.744],[0.984,-0.733],[0.952,-0.776],[0.964,-0.784],[0.977,-0.773],[0.944,-0.817],
  [0.957,-0.824],[0.970,-0.813],[0.936,-0.856],[0.950,-0.864],[0.964,-0.853],[0.928,-0.897],[0.942,-0.904],[0.957,-0.893],
  [0.920,-0.936],[0.935,-0.944],[0.950,-0.933],[0.912,-0.977],[0.928,-0.984],[0.944,-0.973]
];
var bottomRedBand2 = [
  [0.920,0.965],[0.938,0.961],[0.928,0.925],[0.944,0.921],[0.936,0.885],[0.951,0.881],[0.943,0.845],[0.958,0.841],
  [0.951,0.805],[0.965,0.801],[0.958,0.765],[0.972,0.761],[0.965,0.725],[0.979,0.721],[0.972,0.685],[0.986,0.681],
  [0.979,0.645],[0.993,0.641],[0.985,0.605],[0.999,0.601],[0.991,0.565],[1.005,0.561],[0.996,0.525],[1.010,0.521],
  [1.001,0.485],[1.015,0.481],[1.005,0.445],[1.019,0.441],[1.008,0.405],[1.022,0.401],[1.010,0.365],[1.025,0.361],
  [1.012,0.325],[1.027,0.321],[1.014,0.285],[1.029,0.281],[1.015,0.245],[1.031,0.241],[1.016,0.205],[1.032,0.201],
  [1.016,0.165],[1.034,0.161],[1.017,0.125],[1.035,0.121],[1.017,0.085],[1.035,0.081],[1.017,0.045],[1.036,0.041],
  [1.018,0.005],[1.036,0.001],
  [1.017,-0.035],[1.036,-0.039],[1.017,-0.075],[1.035,-0.079],[1.017,-0.115],[1.035,-0.119],[1.016,-0.155],[1.034,-0.159],
  [1.016,-0.195],[1.032,-0.199],[1.015,-0.235],[1.031,-0.239],[1.014,-0.275],[1.029,-0.279],[1.012,-0.315],[1.027,-0.319],
  [1.010,-0.355],[1.025,-0.359],[1.008,-0.395],[1.022,-0.399],[1.005,-0.435],[1.019,-0.439],[1.001,-0.475],[1.015,-0.479],
  [0.996,-0.515],[1.010,-0.519],[0.991,-0.555],[1.005,-0.559],[0.985,-0.595],[0.999,-0.599],[0.979,-0.635],[0.993,-0.639],
  [0.972,-0.675],[0.986,-0.679],[0.965,-0.715],[0.979,-0.719],[0.958,-0.755],[0.972,-0.759],[0.951,-0.795],[0.965,-0.799],
  [0.943,-0.835],[0.958,-0.839],[0.936,-0.875],[0.951,-0.879],[0.928,-0.915],[0.944,-0.919],[0.920,-0.955],[0.938,-0.959]
];

// bottom panel — model curves
var bottomBlueFit = [
  [-0.068,0.874],[0.063,0.868],[0.252,0.852],[0.442,0.830],[0.593,0.808],[0.726,0.786],[0.821,0.748],[0.916,0.679],
  [0.991,0.572],[1.043,0.478],[1.092,0.352],[1.124,0.226],[1.139,0.101],[1.143,0.0],[1.139,-0.101],[1.124,-0.226],
  [1.092,-0.352],[1.043,-0.478],[0.991,-0.572],[0.916,-0.679],[0.821,-0.748],[0.726,-0.786],[0.593,-0.808],[0.442,-0.830],
  [0.252,-0.852],[0.063,-0.868],[-0.068,-0.874]
];
var bottomOrangeFit = [
  [0.802,1.0],[0.821,0.956],[0.846,0.937],[0.872,0.918],[0.916,0.843],[0.954,0.748],[0.991,0.623],[1.024,0.497],
  [1.048,0.352],[1.063,0.208],[1.071,0.101],[1.072,0.0],[1.070,-0.101],[1.063,-0.208],[1.048,-0.352],[1.024,-0.497],
  [0.991,-0.623],[0.954,-0.748],[0.916,-0.843],[0.872,-0.918],[0.846,-0.937],[0.821,-0.956],[0.802,-1.0]
];
var bottomRedFit = [
  [0.963,1.0],[0.944,0.950],[0.959,0.918],[0.978,0.792],[0.997,0.623],[1.014,0.415],[1.024,0.208],[1.027,0.0],
  [1.024,-0.208],[1.014,-0.415],[0.997,-0.623],[0.978,-0.792],[0.959,-0.918],[0.944,-0.950],[0.963,-1.0]
];

// ── Styling ──────────────────────────────────────────────────────────────────
var BLUE = '#0072BD', ORANGE = '#E69F00', RED = '#E3241B';
var AXIS = '#262626';

var markers = [
  { style: 'circle',   radius: 5,   color: BLUE },
  { style: 'triangle', radius: 6,   color: ORANGE },
  { style: 'rectRot',  radius: 5.5, color: RED }
];

function pts(arr) { return arr.map(function (p) { return { x: p[0], y: p[1] }; }); }

function scatterSet(arr, m, order) {
  return {
    data: pts(arr), showLine: false, order: order, clip: false,
    pointStyle: m.style, pointRadius: m.radius, pointBorderWidth: 1.2,
    pointBorderColor: m.color, pointBackgroundColor: 'rgba(0,0,0,0)'
  };
}
function fitSet(arr) {
  return {
    data: pts(arr), showLine: true, order: 0, tension: 0.2,
    borderColor: '#000', borderWidth: 2, pointRadius: 0
  };
}

// frame + inward ticks (MATLAB look), drawn from the chart's own scales
var framePlugin = {
  id: 'frame',
  beforeDatasetsDraw: function (chart, args, opts) {
    var ctx = chart.ctx, a = chart.chartArea;
    var xs = chart.scales.x, ys = chart.scales.y;
    ctx.save();
    ctx.strokeStyle = AXIS;
    ctx.lineWidth = 1;
    ctx.strokeRect(Math.round(a.left) + 0.5, Math.round(a.top) + 0.5,
      Math.round(a.right - a.left), Math.round(a.bottom - a.top));
    ctx.beginPath();
    opts.xTicks.forEach(function (v) {
      var px = Math.round(xs.getPixelForValue(v)) + 0.5;
      ctx.moveTo(px, a.bottom); ctx.lineTo(px, a.bottom - 6);
      ctx.moveTo(px, a.top);    ctx.lineTo(px, a.top + 6);
    });
    yTicks.forEach(function (v) {
      var py = Math.round(ys.getPixelForValue(v)) + 0.5;
      var len = v === 0 ? 12 : 6;
      ctx.moveTo(a.left, py);  ctx.lineTo(a.left + len, py);
      ctx.moveTo(a.right, py); ctx.lineTo(a.right - len, py);
    });
    ctx.stroke();
    ctx.restore();
  }
};

// legend symbols only (no text in the figure)
var legendPlugin = {
  id: 'symLegend',
  afterDatasetsDraw: function (chart) {
    var ctx = chart.ctx, a = chart.chartArea;
    var rows = [113, 158, 205];
    ctx.save();
    markers.forEach(function (m, i) {
      ctx.strokeStyle = m.color;
      ctx.fillStyle = 'rgba(0,0,0,0)';
      ctx.lineWidth = 1;
      Chart.helpers.drawPoint(ctx, { pointStyle: m.style, rotation: 0, radius: m.radius, borderWidth: 1 },
        a.left + 47, a.top + rows[i]);
    });
    ctx.restore();
  }
};

function makePanel(id, xMin, xMax, xTicks, blue, orange, red, fits) {
  var datasets = fits.map(fitSet);
  datasets.push(scatterSet(red, markers[2], 1));
  datasets.push(scatterSet(orange, markers[1], 2));
  datasets.push(scatterSet(blue, markers[0], 3));
  datasets.push({
    data: pts(refLine), showLine: true, order: 9, borderColor: '#555',
    borderWidth: 1.2, borderDash: [5, 3], pointRadius: 0
  });

  return new Chart(document.getElementById(id), {
    type: 'scatter',
    data: { datasets: datasets },
    plugins: [framePlugin, legendPlugin],
    options: {
      responsive: true,
      maintainAspectRatio: false,
      animation: false,
      events: [],
      layout: { padding: { left: 181, right: 77, top: 40, bottom: 42 } },
      plugins: {
        legend: { display: false },
        tooltip: { enabled: false },
        frame: { xTicks: xTicks }
      },
      scales: {
        x: { type: 'linear', min: xMin, max: xMax, display: false },
        y: { type: 'linear', min: -1, max: 1, display: false }
      }
    }
  });
}

makePanel('chartTop', -0.0667, 1.1863, xTicksTop,
  topBlue.concat(topBlueCore), topOrange.concat(topOrangeBand), topRed.concat(topRedBand),
  [topBlueFit, topOrangeFit, topRedFit]);
makePanel('chartBottom', -0.0682, 1.2133, xTicksBottom,
  bottomBlue.concat(bottomBlueBand, bottomBlueBand2),
  bottomOrange.concat(bottomOrangeBand, bottomOrangeBand2),
  bottomRed.concat(bottomRedBand, bottomRedBand2),
  [bottomBlueFit, bottomOrangeFit, bottomRedFit]);
</script>
</body>
</html>
